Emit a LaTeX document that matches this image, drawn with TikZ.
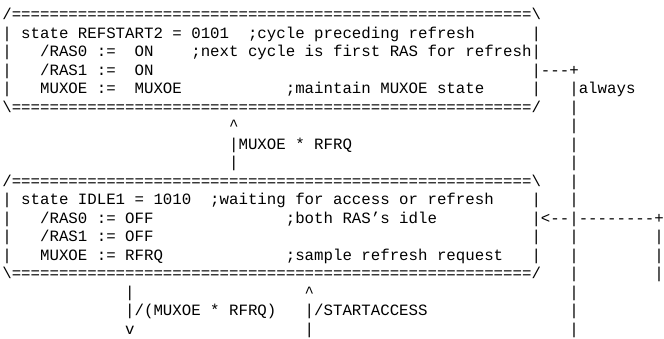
\documentclass[tikz,border=0pt]{standalone}
\usepackage{fontspec}
\setmonofont{Liberation Mono}
\begin{document}
\begin{tikzpicture}[x=9.45pt,y=-18.5pt,
  asc/.style={anchor=base west,inner sep=0pt,outer sep=0pt,
    font=\ttfamily\fontsize{15.75pt}{18.5pt}\selectfont,text=black}]
\useasboundingbox (0,0) rectangle (70.2646,18.2703);
\fill[white] (0,0) rectangle (70.2646,18.2703);
\begin{scope}[shift={(0.245,0.065)}]
% box REFSTART2
\node[asc] (t1) at (0,1) {/=======================================================\textbackslash};
\node[asc] (t2a) at (0,2) {|};
\node[asc] (t2b) at (2,2) {state REFSTART2 = 0101};
\node[asc] (t2c) at (26,2) {;cycle preceding refresh};
\node[asc] (t2d) at (56,2) {|};
\node[asc] (t3a) at (0,3) {|};
\node[asc] (t3b) at (4,3) {/RAS0 :=};
\node[asc] (t3c) at (14,3) {ON};
\node[asc] (t3d) at (20,3) {;next cycle is first RAS for refresh|};
\node[asc] (t4a) at (0,4) {|};
\node[asc] (t4b) at (4,4) {/RAS1 :=};
\node[asc] (t4c) at (14,4) {ON};
\node[asc] (t4d) at (56,4) {|---+};
\node[asc] (t5a) at (0,5) {|};
\node[asc] (t5b) at (4,5) {MUXOE :=};
\node[asc] (t5c) at (14,5) {MUXOE};
\node[asc] (t5d) at (30,5) {;maintain MUXOE state};
\node[asc] (t5e) at (56,5) {|};
\node[asc] (t5f) at (60,5) {|always};
\node[asc] (t6a) at (0,6) {\textbackslash=======================================================/};
\node[asc] (t6b) at (60,6) {|};
% transition MUXOE * RFRQ
\node[asc] (t7a) at (24,7) {\textasciicircum};
\node[asc] (t7b) at (60,7) {|};
\node[asc] (t8a) at (24,8) {|MUXOE * RFRQ};
\node[asc] (t8b) at (60,8) {|};
\node[asc] (t9a) at (24,9) {|};
\node[asc] (t9b) at (60,9) {|};
% box IDLE1
\node[asc] (t10a) at (0,10) {/=======================================================\textbackslash};
\node[asc] (t10b) at (60,10) {|};
\node[asc] (t11a) at (0,11) {|};
\node[asc] (t11b) at (2,11) {state IDLE1 = 1010};
\node[asc] (t11c) at (22,11) {;waiting for access or refresh};
\node[asc] (t11d) at (56,11) {|};
\node[asc] (t11e) at (60,11) {|};
\node[asc] (t12a) at (0,12) {|};
\node[asc] (t12b) at (4,12) {/RAS0 := OFF};
\node[asc] (t12c) at (30,12) {;both RAS’s idle};
\node[asc] (t12d) at (56,12) {|<--|--------+};
\node[asc] (t13a) at (0,13) {|};
\node[asc] (t13b) at (4,13) {/RAS1 := OFF};
\node[asc] (t13c) at (56,13) {|};
\node[asc] (t13d) at (60,13) {|};
\node[asc] (t13e) at (69,13) {|};
\node[asc] (t14a) at (0,14) {|};
\node[asc] (t14b) at (4,14) {MUXOE := RFRQ};
\node[asc] (t14c) at (30,14) {;sample refresh request};
\node[asc] (t14d) at (56,14) {|};
\node[asc] (t14e) at (60,14) {|};
\node[asc] (t14f) at (69,14) {|};
\node[asc] (t15a) at (0,15) {\textbackslash=======================================================/};
\node[asc] (t15b) at (60,15) {|};
\node[asc] (t15c) at (69,15) {|};
% exits
\node[asc] (t16a) at (13,16) {|};
\node[asc] (t16b) at (32,16) {\textasciicircum};
\node[asc] (t16c) at (60,16) {|};
\node[asc] (t17a) at (13,17) {|/(MUXOE * RFRQ)};
\node[asc] (t17b) at (32,17) {|/STARTACCESS};
\node[asc] (t17c) at (60,17) {|};
\node[asc] (t18a) at (13,18) {v};
\node[asc] (t18b) at (32,18) {|};
\node[asc] (t18c) at (60,18) {|};
\end{scope}
\end{tikzpicture}
\end{document}
